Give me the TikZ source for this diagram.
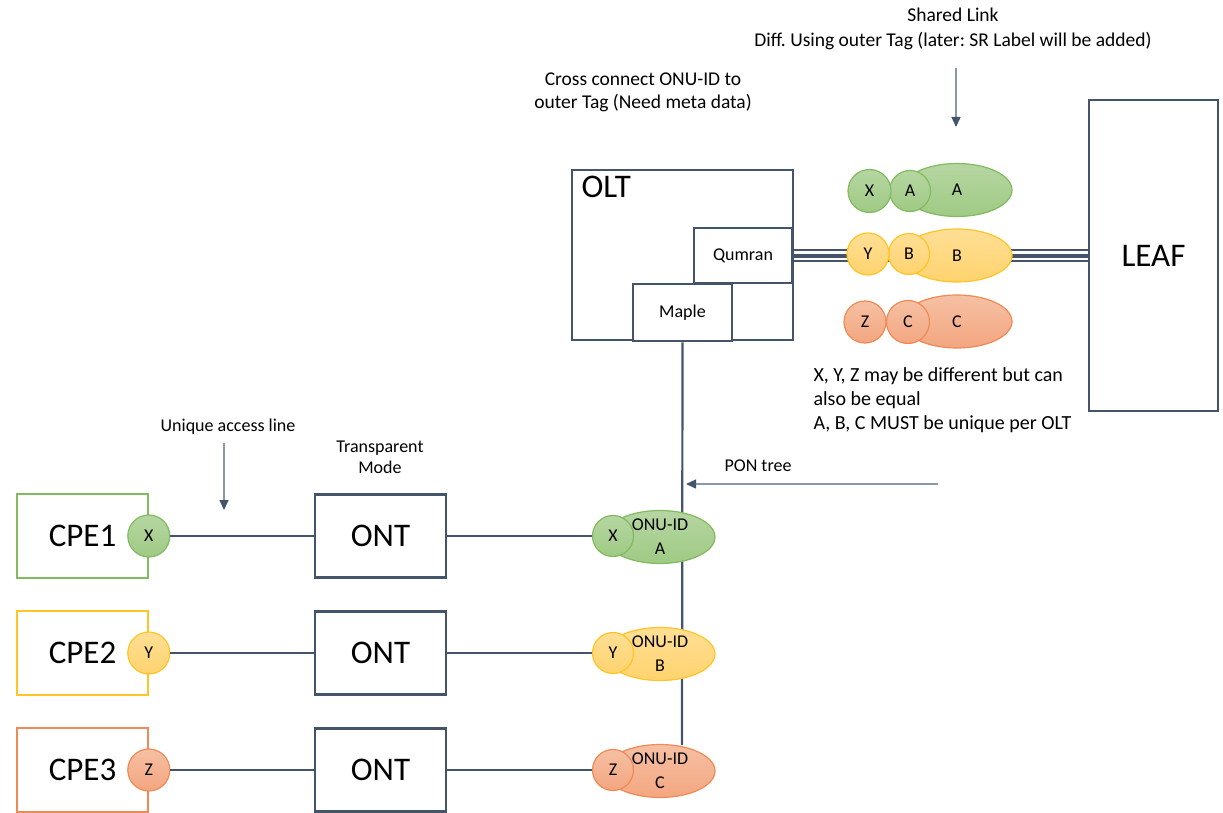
\documentclass[tikz,border=0pt]{standalone}
\usepackage{fontspec}
\setmainfont{Carlito}
\usetikzlibrary{shapes.geometric, arrows.meta, positioning}

\definecolor{slate}{HTML}{44546A}
\definecolor{pointergray}{HTML}{8A97A8}
\definecolor{greenedge}{HTML}{82BA5F}
\definecolor{greentop}{HTML}{B6D6A2}
\definecolor{greenbot}{HTML}{9FCA84}
\definecolor{yellowedge}{HTML}{FFC425}
\definecolor{yellowtop}{HTML}{FFDF95}
\definecolor{yellowbot}{HTML}{FFD36E}
\definecolor{orangeedge}{HTML}{EE8A55}
\definecolor{orangetop}{HTML}{F6C0A3}
\definecolor{orangebot}{HTML}{F3A680}

\frenchspacing
\tikzset{
    box/.style={draw=slate, line width=2.6pt, fill=white, minimum width=131pt, minimum height=83pt,
        inner sep=0pt, font=\fontsize{33}{40}\selectfont},
    chip/.style={draw=slate, line width=2.5pt, fill=white, inner sep=0pt, font=\fontsize{18}{22}\selectfont},
    cpe/.style={draw=#1edge, line width=1.6pt, minimum width=131pt, minimum height=84pt,
        inner sep=0pt, font=\fontsize{33}{40}\selectfont},
    port/.style={circle, draw=#1edge, top color=#1top, bottom color=#1bot, line width=1.2pt,
        minimum size=42pt, inner sep=0pt, font=\fontsize{18}{22}\selectfont},
    tag/.style={ellipse, draw=#1edge, top color=#1top, bottom color=#1bot, line width=1.2pt,
        minimum width=110pt, minimum height=53pt, inner sep=0pt, align=center,
        font=\fontsize{18}{24}\selectfont},
    link/.style={draw=slate, line width=2.2pt},
    pointer/.style={draw=pointergray, line width=1.3pt, -{Triangle[width=9pt,length=10pt,color=slate]}},
    note/.style={align=center, font=\fontsize{18}{21}\selectfont},
}

\begin{document}
\begin{tikzpicture}[x=1pt, y=-1pt]
    \useasboundingbox (0,0) rectangle (1223,813);

    % OLT with its chips
    \node[box, minimum width=221pt, minimum height=170pt] (olt) at (682.5,255) {};
    \node[anchor=north west, font=\fontsize{33}{40}\selectfont] (olttext) at (578,173) {OLT};
    \node[chip, minimum width=98pt, minimum height=55pt] (qumran) at (743,255.5) {Qumran};
    \node[chip, minimum width=99pt, minimum height=57pt] (maple) at (682.5,312.5) {Maple};

    % LEAF and the shared link
    \node[box, minimum width=129pt, minimum height=311pt] (leaf) at (1153.5,255.5) {LEAF};
    \draw[link, line width=1.6pt] ([yshift=5.5pt]qumran.east) -- ([yshift=5.5pt]leaf.west);
    \draw[link, line width=4pt] (qumran.east) -- (leaf.west);
    \draw[link, line width=1.6pt] ([yshift=-5.5pt]qumran.east) -- ([yshift=-5.5pt]leaf.west);

    % outer tags on the shared link
    \node[tag=green] (tagA) at (957,190) {A};
    \node[port=green, minimum size=41pt] (innerA) at (910,191) {A};
    \node[port=green, minimum size=43pt] (outerX) at (869.5,191) {X};
    \node[tag=yellow] (tagB) at (957,255.5) {B};
    \node[port=yellow, minimum size=41pt] (innerB) at (909,254) {B};
    \node[port=yellow, minimum size=42pt] (outerY) at (868,254) {Y};
    \node[tag=orange] (tagC) at (957,321.5) {C};
    \node[port=orange, minimum size=43pt] (innerC) at (908,322) {C};
    \node[port=orange, minimum size=42pt] (outerZ) at (865,322) {Z};

    % PON tree
    \coordinate (ponend) at (682,745);
    \draw[link] (maple.south) -- (ponend);

    % access lines
    \foreach \row/\y/\col/\tag/\id in {1/536/green/X/A, 2/653/yellow/Y/B, 3/770/orange/Z/C} {
        \node[cpe=\col] (cpe\row) at (82.5,\y) {CPE\row};
        \node[port=\col] (cpeport\row) at (cpe\row.east) {\tag};
        \node[box] (ont\row) at (380.5,\y) {ONT};
        \node[tag=\col] (onu\row) at (660,\y+1) {ONU-ID\\\id};
        \node[port=\col, minimum size=41pt] (onuport\row) at (613,\y) {\tag};
        \draw[link] (cpeport\row) -- (ont\row);
        \draw[link] (ont\row) -- (onuport\row);
    }

    % notes
    \node[note, font=\fontsize{19.5}{25}\selectfont] (shared) at (953,28.5)
        {Shared Link\\Diff. Using outer Tag (later: SR Label will be added)};
    \coordinate (sharedfrom) at (956,68);
    \coordinate (sharedtip) at (956,127);
    \draw[pointer] (sharedfrom) -- (sharedtip);

    \node[note, font=\fontsize{19.5}{23}\selectfont] (crossconnect) at (643,92.5)
        {Cross connect ONU-ID to\\outer Tag (Need meta data)};

    \node[note, align=left, anchor=west, font=\fontsize{20}{24}\selectfont] (uniqueness) at (810,400.5)
        {X, Y, Z may be different but can\\also be equal\\A, B, C MUST be unique per OLT};

    \node[note] (pontree) at (758,466) {PON tree};
    \coordinate (ponfrom) at (938,484);
    \coordinate (pontip) at (686,484);
    \draw[pointer] (ponfrom) -- (pontip);

    \node[note] (access) at (228,427) {Unique access line};
    \coordinate (accessfrom) at (224,443);
    \coordinate (accesstip) at (224,510);
    \draw[pointer] (accessfrom) -- (accesstip);

    \node[note] (transparent) at (380,457) {Transparent\\Mode};
\end{tikzpicture}
\end{document}
